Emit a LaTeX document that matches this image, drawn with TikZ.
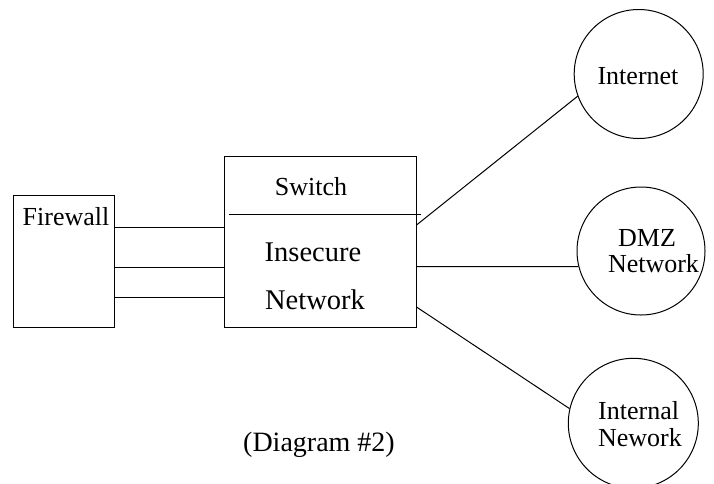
\documentclass[tikz,border=0pt]{standalone}
\usepackage{fontspec}
\setmainfont{Liberation Serif}

\begin{document}
\begin{tikzpicture}
[x=1pt,y=-1pt,line width=1pt,%
  boxDecorate/.style={shape=rectangle,draw,inner sep=0pt},
  netDecorate/.style={shape=circle,draw,inner sep=0pt,minimum size=129pt},
  labelDecorate/.style={anchor=base,inner sep=0pt,font=\fontsize{26}{28}\selectfont},
  bigDecorate/.style={labelDecorate,font=\fontsize{28.5}{30}\selectfont},
  lineDecorate/.style={-}]
\useasboundingbox (0,0) rectangle (714,483);
%% boxes
\node (fw) at (63.5,261) [boxDecorate,minimum width=101pt,minimum height=132pt] {};
\node (sw) at (320,241.5) [boxDecorate,minimum width=192pt,minimum height=171pt] {};
\coordinate (divl) at (229,214);
\coordinate (divr) at (421,214);
\draw (divl) -- (divr);
%% networks
\node (inet) at (638.7,74) [netDecorate] {};
\node (dmz) at (641,251) [netDecorate,minimum size=128pt] {};
\node (intn) at (633.3,423.3) [netDecorate,minimum size=130pt] {};
%% texts
\node (fwtext) at (66,225.7) [labelDecorate] {Firewall};
\node (swtext) at (311,195) [labelDecorate] {Switch};
\node (instext) at (313,261) [bigDecorate] {Insecure};
\node (nettext) at (315,309) [bigDecorate] {Network};
\node (inettext) at (638,84) [labelDecorate] {Internet};
\node (dmztext) at (647,246.7) [labelDecorate] {DMZ};
\node (dmznet) at (653.5,272) [labelDecorate] {Network};
\node (intntext) at (638.6,419) [labelDecorate] {Internal};
\node (intnnet) at (640,446.7) [labelDecorate] {Nework};
\node (caption) at (319,451.7) [bigDecorate,font=\fontsize{28}{30}\selectfont] {(Diagram \#2)};
%% links firewall to switch
\foreach \y in {227,267,297}
{
  \draw[lineDecorate] (fw.east |- 0,\y) -- (sw.west |- 0,\y);
}
%% links switch to networks
\foreach \y/\target in {225/inet.200, 266.5/dmz.194, 307/intn.167}
{
  \draw[lineDecorate] (sw.east |- 0,\y) -- (\target);
}
\end{tikzpicture}
\end{document}
